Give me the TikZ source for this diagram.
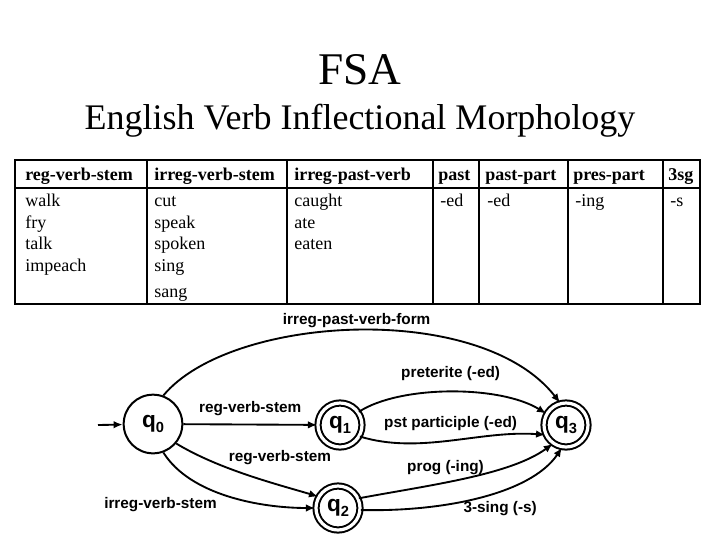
\documentclass[tikz,border=0pt]{standalone}
\usepackage{fontspec}
\setmainfont{Liberation Serif}
\setsansfont{Liberation Sans}
\usetikzlibrary{arrows.meta}
\tikzset{
  state/.style={circle, draw, line width=1.5pt, minimum size=44pt, inner sep=0pt, font=\sffamily\bfseries\fontsize{17}{17}\selectfont},
  accept/.style={state, double, double distance=2.4pt, minimum size=33pt},
  trans/.style={line width=1.4pt, -{Latex[length=2.4mm,width=2mm]}},
  lbl/.style={font=\sffamily\bfseries\fontsize{11.5}{12}\selectfont, inner sep=1pt},
  cell/.style={anchor=base west, font=\fontsize{13.5}{15}\selectfont, inner sep=0pt},
  head/.style={cell, font=\bfseries\fontsize{13.5}{15}\selectfont}
}
\newcommand{\qsub}[1]{q\raisebox{-0.45ex}{\fontsize{11}{11}\selectfont #1}}
\begin{document}
\begin{tikzpicture}[x=0.75pt,y=-0.75pt]
    \useasboundingbox (0,0) rectangle (720,540);
    % titles
    \node (title) at (360,70) {\fontsize{34}{36}\selectfont FSA};
    \node (subtitle) at (360,121) {\fontsize{27}{29}\selectfont English Verb Inflectional Morphology};
    % table
    \draw[line width=0.9pt] (15,160) rectangle (700,304);
    \draw[line width=0.9pt] (15,188) -- (700,188);
    \foreach \x in {147,287,433,479,568,663}
        \draw[line width=0.9pt] (\x,160) -- (\x,304);
    \node[head] (h1) at (25,180) {reg-verb-stem};
    \node[head] (h2) at (154,180) {irreg-verb-stem};
    \node[head] (h3) at (294,180) {irreg-past-verb};
    \node[head] (h4) at (438,180) {past};
    \node[head] (h5) at (485,180) {past-part};
    \node[head] (h6) at (573,180) {pres-part};
    \node[head] (h7) at (668,180) {3sg};
    \foreach \w [count=\i] in {walk,fry,talk,impeach}
        \node[cell] (reg\i) at (25,185+21.5*\i) {\w};
    \foreach \w [count=\i] in {cut,speak,spoken,sing}
        \node[cell] (irr\i) at (154,185+21.5*\i) {\w};
    \node[cell] (irr5) at (154,297) {sang};
    \foreach \w [count=\i] in {caught,ate,eaten}
        \node[cell] (past\i) at (294,185+21.5*\i) {\w};
    \node[cell] (c4) at (440,206.5) {-ed};
    \node[cell] (c5) at (487,206.5) {-ed};
    \node[cell] (c6) at (575,206.5) {-ing};
    \node[cell] (c7) at (670,206.5) {-s};
    % automaton
    \node[state] (q0) at (153,424) {\qsub{0}};
    \node[accept] (q1) at (340,425) {\qsub{1}};
    \node[accept] (q2) at (338,508) {\qsub{2}};
    \node[accept] (q3) at (566,425) {\qsub{3}};
    \coordinate (start) at (98,425);
    \draw[trans] (start) -- (q0);
    \draw[trans] (q0.70) .. controls (230,315) and (480,300) .. node[lbl, pos=.5, above=0pt] (l1) {irreg-past-verb-form} (q3.105);
    \draw[trans] (q0) -- node[lbl, above=5pt] (l2) {reg-verb-stem} (q1);
    \draw[trans] (q1.35) .. controls (400,385) and (500,385) .. node[lbl, pos=.5, above=7pt] (l3) {preterite (-ed)} (q3.150);
    \draw[trans] (q1.-30) .. controls (420,455) and (480,430) .. node[lbl, pos=.5, above=6pt] (l4) {pst participle (-ed)} (q3.-155);
    \draw[trans] (q0.-40) .. controls (220,470) and (280,485) .. node[lbl, pos=.35, above right] (l5) {reg-verb-stem} (q2.150);
    \draw[trans] (q0.-70) .. controls (190,495) and (260,508) .. node[lbl, pos=.45, below left=1pt] (l6) {irreg-verb-stem} (q2.180);
    \draw[trans] (q2.25) .. controls (430,485) and (510,475) .. node[lbl, pos=.4, above=4pt] (l7) {prog (-ing)} (q3.-125);
    \draw[trans] (q2.-5) .. controls (440,512) and (530,495) .. node[lbl, pos=.6, below=6pt] (l8) {3-sing (-s)} (q3.-100);
\end{tikzpicture}
\end{document}
